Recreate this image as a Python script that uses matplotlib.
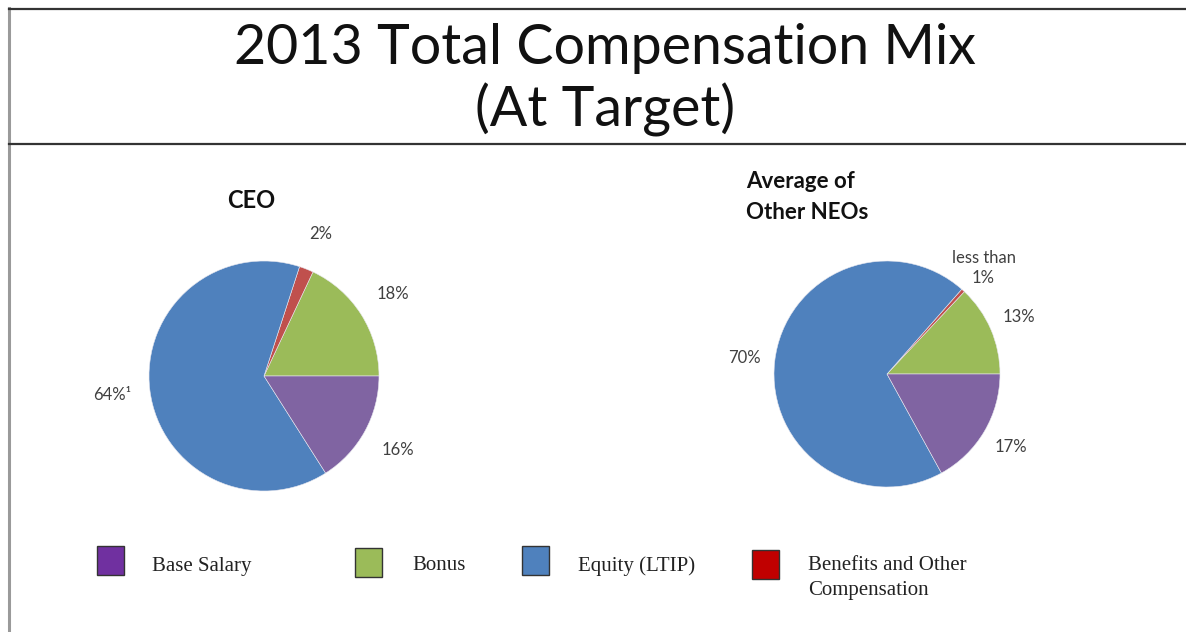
import matplotlib.pyplot as plt
from matplotlib.lines import Line2D
from matplotlib.patches import Rectangle

W, H = 1186, 632

# data (order counter-clockwise from 3 o'clock)
categories = ['Bonus', 'Benefits and Other\nCompensation', 'Equity (LTIP)', 'Base Salary']
ceo_values = [18, 2, 64, 16]
ceo_labels = ['18%', '2%', '64%¹', '16%']
neo_values = [13, 0.5, 69.5, 17]
neo_labels = ['13%', 'less than\n1%', '70%', '17%']

pie_colors = ['#9BBB59', '#C0504D', '#4F81BD', '#8064A2']
legend_colors = ['#9BBB59', '#C00000', '#4F81BD', '#7030A0']
legend_order = [3, 0, 2, 1]

plt.rcParams['font.family'] = ['Lato', 'DejaVu Sans']

fig = plt.figure(figsize=(W / 100, H / 100), dpi=100)


def px_axes(cx, cy, r):
    # square axes centred on a pixel position (y measured from top)
    return fig.add_axes([(cx - r) / W, 1 - (cy + r) / H, 2 * r / W, 2 * r / H])


def draw_pie(ax, values, labels, dist):
    wedges, texts = ax.pie(values, colors=pie_colors, labels=labels,
                           startangle=0, counterclock=True, labeldistance=dist,
                           wedgeprops=dict(linewidth=0.4, edgecolor='#e8e8f0'),
                           textprops=dict(fontsize=12, color='#404040'))
    for t in texts:
        t.set_ha('center')
        t.set_va('center')
        t.set_linespacing(1.3)
    ax.set_xlim(-1, 1)
    ax.set_ylim(-1, 1)
    ax.set_aspect('equal')
    ax.axis('off')


draw_pie(px_axes(264, 376, 115), ceo_values, ceo_labels, 1.33)
draw_pie(px_axes(887, 374, 113), neo_values, neo_labels, 1.27)

# frame lines
fig.add_artist(Line2D([9 / W, 9 / W], [0, 1 - 8 / H], color='#9a9a9a', lw=2.2))
fig.add_artist(Line2D([9 / W, 1], [1 - 9 / H, 1 - 9 / H], color='#333333', lw=1.6))
fig.add_artist(Line2D([9 / W, 1], [1 - 144 / H, 1 - 144 / H], color='#333333', lw=1.6))

# titles
fig.text(605 / W, 1 - 80 / H, '2013 Total Compensation Mix\n(At Target)',
         ha='center', va='center', fontsize=40, linespacing=1.2, color='#111111')
fig.text(251 / W, 1 - 201 / H, 'CEO', ha='center', va='center',
         fontsize=17, fontweight='bold', color='#111111')
fig.text(746 / W, 1 - 197 / H, 'Average of\nOther NEOs', ha='left', va='center',
         fontsize=16, fontweight='bold', color='#111111', linespacing=1.55)

# legend
box_x = [97, 355, 522, 752]
box_y = [546, 548, 546, 550]
txt_x = [152, 412, 578, 808]
for i, k in enumerate(legend_order):
    fig.add_artist(Rectangle((box_x[i] / W, 1 - (box_y[i] + 29) / H), 27 / W, 29 / H,
                             facecolor=legend_colors[k], edgecolor='#333333', lw=1.0))
    ty = 578 if '\n' in categories[k] else 566
    fig.text(txt_x[i] / W, 1 - ty / H, categories[k], ha='left', va='center',
             fontsize=15, family=['Liberation Serif', 'DejaVu Serif'],
             color='#222222', linespacing=1.45)

fig.savefig('out.png', dpi=100, facecolor='white')
